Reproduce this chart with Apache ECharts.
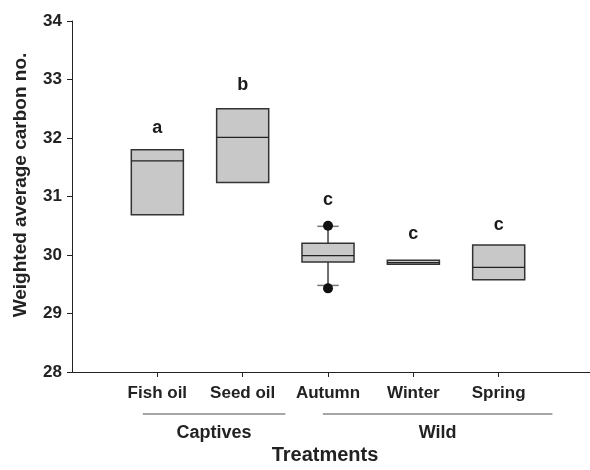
<!DOCTYPE html>
<html>
<head>
<meta charset="utf-8">
<script src="https://cdn.jsdelivr.net/npm/echarts@6/dist/echarts.min.js"></script>
<style>html,body{margin:0;padding:0;background:#fff;overflow:hidden}#c{width:590px;height:470px}</style>
</head>
<body>
<div id="c"></div>
<script>
// Categories and positions on the x value axis
var categories = ['Fish oil', 'Seed oil', 'Autumn', 'Winter', 'Spring'];
var positions = [1, 2, 3, 4, 5];
// [whiskerLow, Q1, median, Q3, whiskerHigh]
var boxValues = [
  [30.69, 30.69, 31.61, 31.80, 31.80],
  [31.24, 31.24, 32.01, 32.50, 32.50],
  [29.48, 29.88, 29.99, 30.20, 30.49],
  [29.84, 29.84, 29.87, 29.91, 29.91],
  [29.575, 29.575, 29.79, 30.17, 30.17]
];
var hasWhiskers = [false, false, true, false, false];
// outliers [position, value]
var outliers = [[3, 30.50], [3, 29.43]];
// significance letters
var letters = ['a', 'b', 'c', 'c', 'c'];
var letterY = [32.17, 32.91, 30.94, 30.35, 30.52];
var yTicks = [28, 29, 30, 31, 32, 33, 34];
// group annotations: [label, fromX, toX]
var groups = [['Captives', 0.83, 2.50], ['Wild', 2.94, 5.63]];

var font = 'Liberation Sans, Arial, sans-serif';
var chart = echarts.init(document.getElementById('c'));

var boxData = boxValues.map(function (b, i) {
  return [positions[i]].concat(b).concat([hasWhiskers[i] ? 1 : 0]);
});

var option = {
  animation: false,
  backgroundColor: '#fff',
  grid: { left: 72, right: 0, top: 21, bottom: 92 },
  xAxis: {
    type: 'value', min: 0, max: 6.07, interval: 1,
    splitLine: { show: false },
    axisLine: { show: true, lineStyle: { color: '#222', width: 1 } },
    axisTick: { show: true, length: 5, lineStyle: { color: '#222' }, customValues: positions },
    axisLabel: {
      customValues: positions, margin: 13,
      fontFamily: font, fontWeight: 'bold', fontSize: 17, color: '#222',
      formatter: function (v) { var i = positions.indexOf(v); return i >= 0 ? categories[i] : ''; }
    },
    name: 'Treatments', nameLocation: 'middle', nameGap: 73,
    nameTextStyle: { fontFamily: font, fontWeight: 'bold', fontSize: 20, color: '#222', padding: [0, 12, 0, 0] }
  },
  yAxis: {
    type: 'value', min: yTicks[0], max: yTicks[yTicks.length - 1], interval: 1,
    splitLine: { show: false },
    axisLine: { show: true, lineStyle: { color: '#222', width: 1 } },
    axisTick: { show: true, length: 5, lineStyle: { color: '#222' } },
    axisLabel: { margin: 10, fontFamily: font, fontWeight: 'bold', fontSize: 17, color: '#222' },
    name: 'Weighted average carbon no.', nameLocation: 'middle', nameGap: 42,
    nameTextStyle: { fontFamily: font, fontWeight: 'bold', fontSize: 19, color: '#222', padding: [0, 0, 0, 23] }
  },
  series: [
    {
      type: 'custom',
      data: boxData,
      encode: { x: 0, y: [1, 2, 3, 4, 5] },
      renderItem: function (params, api) {
        var x = api.value(0);
        var lo = api.coord([x, api.value(1)]);
        var q1 = api.coord([x, api.value(2)]);
        var med = api.coord([x, api.value(3)]);
        var q3 = api.coord([x, api.value(4)]);
        var hi = api.coord([x, api.value(5)]);
        var half = api.size([0.61, 0])[0] / 2;
        var cap = api.size([0.25, 0])[0] / 2;
        var cx = q1[0];
        var children = [];
        if (api.value(6)) {
          children.push({ type: 'line', shape: { x1: cx, y1: q3[1], x2: cx, y2: hi[1] }, style: { stroke: '#222', lineWidth: 1.3 } });
          children.push({ type: 'line', shape: { x1: cx, y1: q1[1], x2: cx, y2: lo[1] }, style: { stroke: '#222', lineWidth: 1.3 } });
          children.push({ type: 'line', shape: { x1: cx - cap, y1: hi[1], x2: cx + cap, y2: hi[1] }, style: { stroke: '#777', lineWidth: 1.5 } });
          children.push({ type: 'line', shape: { x1: cx - cap, y1: lo[1], x2: cx + cap, y2: lo[1] }, style: { stroke: '#777', lineWidth: 1.5 } });
        }
        children.push({ type: 'rect', shape: { x: cx - half, y: q3[1], width: half * 2, height: q1[1] - q3[1] },
          style: { fill: '#c8c8c8', stroke: '#333', lineWidth: 1.5 } });
        children.push({ type: 'line', shape: { x1: cx - half, y1: med[1], x2: cx + half, y2: med[1] }, style: { stroke: '#222', lineWidth: 1.3 } });
        return { type: 'group', children: children };
      },
      z: 2
    },
    {
      type: 'scatter',
      data: outliers,
      symbol: 'circle', symbolSize: 10,
      itemStyle: { color: '#111', opacity: 1 },
      z: 3
    },
    {
      type: 'scatter',
      data: positions.map(function (p, i) { return [p, letterY[i], letters[i]]; }),
      symbolSize: 1,
      itemStyle: { color: 'rgba(0,0,0,0)', opacity: 1 },
      label: {
        show: true, position: 'inside', opacity: 1,
        formatter: function (p) { return p.value[2]; },
        fontFamily: font, fontWeight: 'bold', fontSize: 18, color: '#1a1a1a'
      },
      z: 4
    }
  ]
};
chart.setOption(option);

// Group annotation lines under the category labels
var gfx = [];
groups.forEach(function (g) {
  var a = chart.convertToPixel({ gridIndex: 0 }, [g[1], 28]);
  var b = chart.convertToPixel({ gridIndex: 0 }, [g[2], 28]);
  gfx.push({ type: 'line', shape: { x1: a[0], y1: a[1] + 42, x2: b[0], y2: b[1] + 42 }, style: { stroke: '#888', lineWidth: 1.5 } });
  gfx.push({ type: 'text', x: (a[0] + b[0]) / 2, y: a[1] + 61,
    style: { text: g[0], fontFamily: font, fontWeight: 'bold', fontSize: 18, fill: '#222', align: 'center', verticalAlign: 'middle' } });
});
chart.setOption({ graphic: gfx });
</script>
</body>
</html>
